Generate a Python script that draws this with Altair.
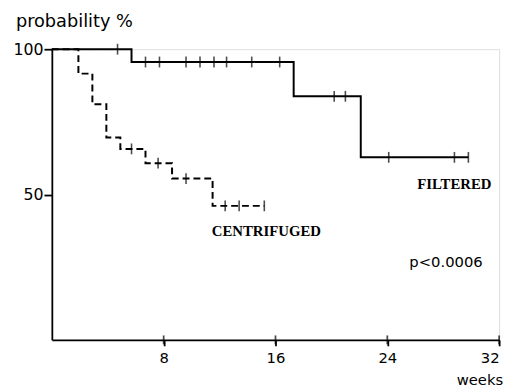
import altair as alt
import pandas as pd

# Kaplan-Meier step curves (week, probability %)
filtered_weeks = [0, 5.7, 17.3, 22.1, 29.8]
filtered_prob = [100, 95.6, 83.8, 62.8, 62.8]
centri_weeks = [0, 1.9, 2.9, 3.9, 4.9, 6.7, 8.6, 11.5, 15.2]
centri_prob = [100, 91.6, 81.1, 69.6, 65.7, 60.8, 55.5, 46.1, 46.1]

# censoring marks
filtered_cens_weeks = [4.7, 6.7, 7.7, 9.6, 10.6, 11.6, 12.5, 14.3, 16.3, 20.2, 21.0, 24.1, 28.8, 29.8]
filtered_cens_prob = [100, 95.6, 95.6, 95.6, 95.6, 95.6, 95.6, 95.6, 95.6, 83.8, 83.8, 62.8, 62.8, 62.8]
centri_cens_weeks = [5.7, 7.6, 9.6, 12.4, 13.4, 15.2]
centri_cens_prob = [65.7, 60.8, 55.5, 46.1, 46.1, 46.1]

x_ticks = [8, 16, 24, 32]
y_ticks = [50, 100]

lines = pd.DataFrame({
    "week": filtered_weeks + centri_weeks,
    "prob": filtered_prob + centri_prob,
    "series": ["FILTERED"] * len(filtered_weeks) + ["CENTRIFUGED"] * len(centri_weeks),
})
cens = pd.DataFrame({
    "week": filtered_cens_weeks + centri_cens_weeks,
    "prob": filtered_cens_prob + centri_cens_prob,
})
xt = pd.DataFrame({"week": x_ticks, "prob": [0] * len(x_ticks)})

labels = pd.DataFrame({
    "week": [28.8, 15.35],
    "prob": [53.6, 37.6],
    "text": ["FILTERED", "CENTRIFUGED"],
})
pval = pd.DataFrame({"week": [28.2], "prob": [26.8], "text": ["p<0.0006"]})

xscale = alt.Scale(domain=[0, 32], nice=False, zero=False)
yscale = alt.Scale(domain=[0, 100], nice=False)

xaxis = alt.Axis(values=x_ticks, title="weeks", titleAngle=0, titleX=434, titleY=40,
                 titleAlign="center", titleBaseline="middle", titleFontSize=15,
                 titleFont="DejaVu Sans", titleFontWeight="normal",
                 labelFont="DejaVu Sans", labelFontSize=15, labelPadding=5,
                 tickSize=6, tickWidth=1.8, tickColor="black", domainColor="black",
                 domainWidth=1.8, grid=False, labelColor="black", titleColor="black")
yaxis = alt.Axis(values=y_ticks, title="probability %", titleAngle=0, titleX=-37, titleY=-28,
                 titleAlign="left", titleBaseline="middle", titleFontSize=18,
                 titleFont="DejaVu Sans", titleFontWeight="normal",
                 labelFont="DejaVu Sans", labelFontSize=16, labelPadding=1,
                 tickSize=8, tickWidth=1.8, tickColor="black", domainColor="black",
                 domainWidth=1.8, grid=False, labelColor="black", titleColor="black")

base_line = alt.Chart(lines).mark_line(interpolate="step-after", color="black", strokeWidth=2).encode(
    x=alt.X("week:Q", scale=xscale, axis=xaxis),
    y=alt.Y("prob:Q", scale=yscale, axis=yaxis),
    strokeDash=alt.StrokeDash("series:N", scale=alt.Scale(domain=["FILTERED", "CENTRIFUGED"],
                                                          range=[[1, 0], [7, 4]]), legend=None),
    detail="series:N",
)

cens_marks = alt.Chart(cens).mark_tick(orient="vertical", size=11, thickness=1.6, color="black").encode(
    x=alt.X("week:Q", scale=xscale),
    y=alt.Y("prob:Q", scale=yscale),
)

xt_marks = alt.Chart(xt).mark_tick(orient="vertical", size=9, thickness=1.8, color="black").encode(
    x=alt.X("week:Q", scale=xscale),
    y=alt.Y("prob:Q", scale=yscale),
)

label_marks = alt.Chart(labels).mark_text(font="Liberation Serif", fontWeight="bold", fontSize=15,
                                          color="black").encode(
    x=alt.X("week:Q", scale=xscale),
    y=alt.Y("prob:Q", scale=yscale),
    text="text:N",
)

p_mark = alt.Chart(pval).mark_text(font="DejaVu Sans", fontSize=15, color="black").encode(
    x=alt.X("week:Q", scale=xscale),
    y=alt.Y("prob:Q", scale=yscale),
    text="text:N",
)

chart = alt.layer(base_line, cens_marks, xt_marks, label_marks, p_mark).properties(
    width=454, height=295,
    autosize=alt.AutoSizeParams(type="none"),
    padding={"left": 44.5, "top": 39, "right": 10, "bottom": 45},
).configure_view(stroke=None).configure(background="white")

chart.save("out.html", embed_options={"renderer": "svg", "actions": False})
